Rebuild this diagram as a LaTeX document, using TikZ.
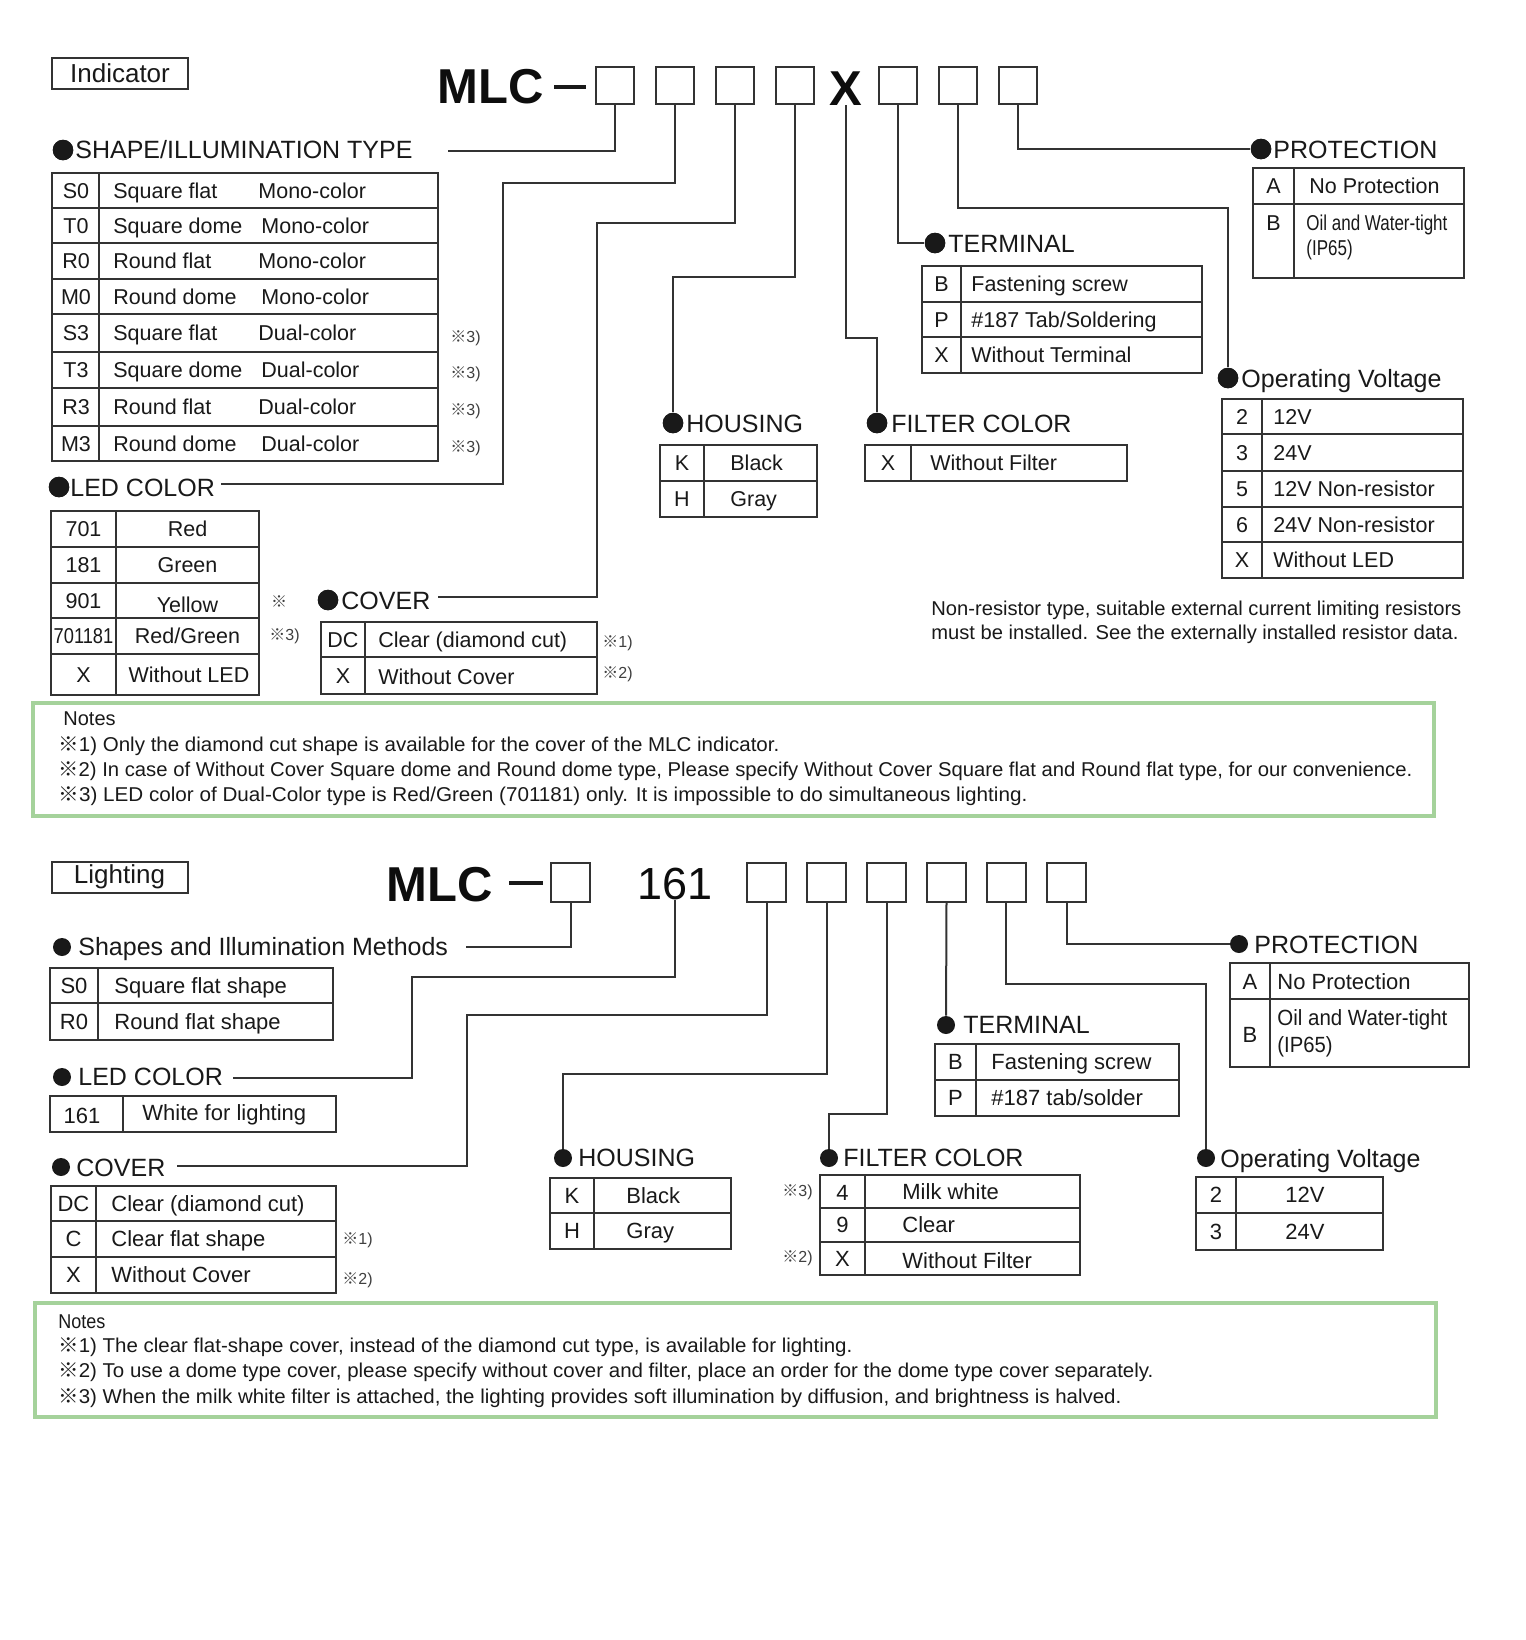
\documentclass[tikz,border=0pt]{standalone}
\usepackage{fontspec}
\setmainfont{Liberation Sans}
\newfontfamily\cjkfont{Noto Sans CJK JP}
\usepackage{graphicx}
\newcommand\komeji{{\cjkfont ※}}
\definecolor{lc}{HTML}{333333}
\definecolor{gn}{HTML}{A5D29B}
\newcommand\tgrid[6]{%
  \draw[ln] (#1,#2) rectangle (#3,#4);
  \draw[ln] (#5,#2) -- (#5,#4);
  \foreach \yy in {#6} {\draw[ln] (#1,\yy) -- (#3,\yy);}
}
\tikzset{
  ln/.style={draw=lc, line width=1pt},
  conn/.style={draw=lc, line width=1pt},
  bigdot/.style={circle, fill=black!90, inner sep=0pt, minimum size=10.25pt},
  smalldot/.style={circle, fill=black!90, inner sep=0pt, minimum size=9pt},
  hd/.style={anchor=west, inner sep=0pt, text=black!90, font=\fontsize{12.5}{14}\selectfont, text height=8.95pt, text depth=0pt},
  tc/.style={inner sep=0pt, text=black!90, font=\fontsize{10.75}{12}\selectfont, text height=7.7pt, text depth=0pt},
  tw/.style={tc, anchor=west},
  tcl/.style={inner sep=0pt, text=black!90, font=\fontsize{11}{12}\selectfont, text height=7.9pt, text depth=0pt},
  twl/.style={tcl, anchor=west},
  sm/.style={anchor=west, inner sep=0pt, text=black!75, font=\fontsize{8}{9}\selectfont, text height=5.7pt, text depth=0pt},
  codebox/.style={draw=lc, line width=1pt, minimum width=19pt, minimum height=18.5pt, inner sep=0pt},
  codeboxl/.style={draw=lc, line width=1pt, minimum width=19.5pt, minimum height=19.5pt, inner sep=0pt},
  nt/.style={anchor=west, inner sep=0pt, text=black!90, font=\fontsize{10}{12}\selectfont, text height=7.2pt, text depth=0pt},
  title/.style={anchor=west, inner sep=0pt, text=black!95, font=\fontsize{24.5}{26}\selectfont\bfseries, text height=17.5pt, text depth=0pt},
  labbox/.style={draw=lc, line width=1pt, inner sep=0pt, text=black!90, font=\fontsize{13}{14}\selectfont, minimum width=68pt, minimum height=15.5pt},
  notebox/.style={draw=gn, line width=1.6pt},
}
\begin{document}
\begin{tikzpicture}[x=0.5pt,y=-0.5pt]
\path[use as bounding box, fill=white] (0,0) rectangle (1526,1640);

%================ INDICATOR =================
\node[labbox] (ind) at (120,73.5) {Indicator};
\node[title] (mlc) at (437,86) {MLC};
\draw[line width=2pt, black!90] (554,87) -- (586,87);
\foreach \n/\x in {b1/615,b2/674.5,b3/734.5,b4/795,b5/897.5,b6/957.5,b7/1017.5}
  \node[codebox] (\n) at (\x,85.5) {};
\node[title, anchor=center] (bX) at (845.5,87.5) {X};

% heading dots
\node[bigdot] (hShape) at (63,150) {};
\node[bigdot] (hLed) at (59,487) {};
\node[bigdot] (hCov) at (328,600) {};
\node[bigdot] (hHouse) at (673,423) {};
\node[bigdot] (hFilt) at (877,423) {};
\node[bigdot] (hTerm) at (935,243) {};
\node[bigdot] (hProt) at (1261,149) {};
\node[bigdot] (hVolt) at (1228,378) {};

\coordinate (eShape) at (448,151);
\coordinate (eLed) at (221,484);
\coordinate (eCov) at (438,597);

\draw[conn] (b1.south) |- (eShape);
\draw[conn] (b2.south) |- (503,183) |- (eLed);
\draw[conn] (b3.south) |- (597,223) |- (eCov);
\draw[conn] (b4.south) |- (673,277) -- (hHouse);
\draw[conn] (bX.south) |- (877,338) -- (hFilt);
\draw[conn] (b5.south) |- (hTerm);
\draw[conn] (b6.south) |- (1228,208) -- (hVolt);
\draw[conn] (b7.south) |- (hProt);

\foreach \d in {hShape,hLed,hCov,hHouse,hFilt,hTerm,hProt,hVolt}
  \fill[black!90] (\d) circle (5.125pt);

\node[hd] (tShape) at (75,150) {SHAPE/ILLUMINATION TYPE};
\node[hd] (tLed) at (70,487.5) {LED COLOR};
\node[hd] (tCov) at (341,601) {COVER};
\node[hd] (tHouse) at (686,423.5) {HOUSING};
\node[hd] (tFilt) at (891,423.5) {FILTER COLOR};
\node[hd] (tTerm) at (948,243.5) {TERMINAL};
\node[hd] (tProt) at (1273,149.5) {PROTECTION};
\node[hd] (tVolt) at (1241,378.5) {Operating Voltage};

% shape table
\tgrid{52}{173}{438}{461}{99}{208,243,279,314,352,388,426}
\foreach \c/\a/\b/\bx/\y [count=\i] in {S0/Square flat/Mono-color/258/190.5,T0/Square dome/Mono-color/261/225.5,R0/Round flat/Mono-color/258/261,M0/Round dome/Mono-color/261/296.5,S3/Square flat/Dual-color/258/333,T3/Square dome/Dual-color/261/370,R3/Round flat/Dual-color/258/407,M3/Round dome/Dual-color/261/443.5}{
  \node[tc] (sc\i) at (76,\y) {\c};
  \node[tw] (sa\i) at (113,\y) {\a};
  \node[tw] (sb\i) at (\bx,\y) {\b};
}
\foreach \y [count=\i] in {337,373,410,447}
  \node[sm] (sn\i) at (450,\y) {\komeji3)};

% LED table
\tgrid{51}{511}{259}{695}{116}{547,583,618,654}
\node[tc] (lc1) at (83.5,529) {701};
\node[tc] (lc2) at (83.5,565) {181};
\node[tc] (lc3) at (83.5,600.5) {901};
\node[tc] (lc4) at (83.5,636) {\scalebox{0.85}[1]{701181}};
\node[tc] (lc5) at (83.5,674.5) {X};
\node[tc] (ld1) at (187.5,529) {Red};
\node[tc] (ld2) at (187.5,565) {Green};
\node[tc] (ld3) at (187.5,605) {Yellow};
\node[tc] (ld4) at (187.5,636) {Red/Green};
\node[tc] (ld5) at (189,674.5) {Without LED};
\node[sm, anchor=center] (ln1) at (279,602) {\komeji};
\node[sm] (ln2) at (269,635) {\komeji3)};

% cover table
\tgrid{321}{622}{597}{694}{365}{657}
\node[tc] (cc1) at (343,639.5) {DC};
\node[tc] (cc2) at (343,675.5) {X};
\node[tw] (cd1) at (378,639.5) {Clear (diamond cut)};
\node[tw] (cd2) at (378,677) {Without Cover};
\node[sm] (cn1) at (602,642) {\komeji1)};
\node[sm] (cn2) at (602,673) {\komeji2)};

% housing table
\tgrid{660}{445}{817}{517}{704}{481}
\node[tc] (hc1) at (682,463) {K};
\node[tc] (hc2) at (682,499) {H};
\node[tw] (hd1) at (730,463) {Black};
\node[tw] (hd2) at (730,499) {Gray};

% filter table
\tgrid{865}{445}{1127}{481}{911}{445}
\node[tc] (fc1) at (888,463) {X};
\node[tw] (fd1) at (930,463) {Without Filter};

% terminal table
\tgrid{922}{266}{1202}{373}{961}{302,337}
\node[tc] (tc1) at (941.5,284) {B};
\node[tc] (tc2) at (941.5,319.5) {P};
\node[tc] (tc3) at (941.5,355) {X};
\node[tw] (td1) at (971,284) {Fastening screw};
\node[tw] (td2) at (971,319.5) {\#187 Tab/Soldering};
\node[tw] (td3) at (971,355) {Without Terminal};

% protection table
\tgrid{1253}{168}{1464}{278}{1294}{204}
\node[tc] (pc1) at (1273.5,186) {A};
\node[tc] (pc2) at (1273.5,223) {B};
\node[tw] (pd1) at (1309,186) {No Protection};
\node[tw] (pd2) at (1306,223) {\resizebox{70.5pt}{\height}{Oil and Water-tight}};
\node[tw] (pd3) at (1306,248) {\scalebox{0.79}[1]{(IP65)}};

% voltage table
\tgrid{1222}{399}{1463}{578}{1262}{434,471,507,542}
\foreach \c/\a/\y [count=\i] in {2/12V/416.5,3/24V/452.5,5/12V Non-resistor/489,6/24V Non-resistor/524.5,X/Without LED/560}{
  \node[tc] (vc\i) at (1242,\y) {\c};
  \node[tw] (vd\i) at (1273,\y) {\a};
}
\node[nt] (nr1) at (931,608) {\resizebox{265pt}{\height}{Non-resistor type, suitable external current limiting resistors}};
\node[nt] (nr2) at (931,632) {\resizebox{263.5pt}{\height}{must be installed. See the externally installed resistor data.}};

% notes 1
\draw[notebox] (33,703) rectangle (1434,816);
\node[nt] (n1h) at (63,718) {Notes};
\node[nt] (n1a) at (58,744) {\resizebox{360.5pt}{\height}{\komeji1) Only the diamond cut shape is available for the cover of the MLC indicator.}};
\node[nt] (n1b) at (58,769) {\resizebox{677pt}{\height}{\komeji2) In case of Without Cover Square dome and Round dome type, Please specify Without Cover Square flat and Round flat type, for our convenience.}};
\node[nt] (n1c) at (58,794) {\resizebox{484.5pt}{\height}{\komeji3) LED color of Dual-Color type is Red/Green (701181) only. It is impossible to do simultaneous lighting.}};

%================ LIGHTING =================
\node[labbox] (lig) at (119.5,877) {Lighting};
\node[title] (mlc2) at (386,884) {MLC};
\draw[line width=2pt, black!90] (509,883) -- (543,883);
\node[anchor=center, inner sep=0pt, text=black!95, font=\fontsize{22.5}{26}\selectfont, text height=16.1pt, text depth=0pt] (n161) at (675,883) {161};
\foreach \n/\x in {L1/570.5,L2/766.5,L3/826.5,L4/886.5,L5/946.5,L6/1006,L7/1066.5}
  \node[codeboxl] (\n) at (\x,882.5) {};

\node[smalldot] (gShape) at (62,947) {};
\node[smalldot] (gLed) at (62,1077) {};
\node[smalldot] (gCov) at (61,1167) {};
\node[smalldot] (gHouse) at (563,1158) {};
\node[smalldot] (gFilt) at (829,1158) {};
\node[smalldot] (gTerm) at (946,1025) {};
\node[smalldot] (gProt) at (1239,944) {};
\node[smalldot] (gVolt) at (1206,1158) {};

\coordinate (fShape) at (466,947);
\coordinate (fLed) at (233,1078);
\coordinate (fCov) at (177,1166);

\draw[conn] (L1.south) |- (fShape);
\draw[conn] (n161.south) |- (412,977) |- (fLed);
\draw[conn] (L2.south) |- (467,1015) |- (fCov);
\draw[conn] (L3.south) |- (563,1074) -- (gHouse);
\draw[conn] (L4.south) |- (829,1114) -- (gFilt);
\draw[conn] (L5.south) -- (gTerm);
\draw[conn] (L6.south) |- (1206,984) -- (gVolt);
\draw[conn] (L7.south) |- (gProt);

\node[hd] (uShape) at (78,946.5) {Shapes and Illumination Methods};
\node[hd] (uLed) at (78,1077) {LED COLOR};
\node[hd] (uCov) at (76,1167.5) {COVER};
\node[hd] (uHouse) at (578,1157.5) {HOUSING};
\node[hd] (uFilt) at (843,1157.5) {FILTER COLOR};
\node[hd] (uTerm) at (963,1024.5) {TERMINAL};
\node[hd] (uProt) at (1254,945) {PROTECTION};
\node[hd] (uVolt) at (1220,1158.5) {Operating Voltage};

% shapes table
\tgrid{50}{968}{333}{1040}{98}{1003}
\node[tcl] (xc1) at (74,985.5) {S0};
\node[tcl] (xc2) at (74,1021.5) {R0};
\node[twl] (xd1) at (114,985.5) {Square flat shape};
\node[twl] (xd2) at (114,1021.5) {Round flat shape};

% led table
\tgrid{50}{1096}{336}{1132}{123}{1096}
\node[tcl] (yc1) at (82,1116) {161};
\node[twl] (yd1) at (142,1113) {White for lighting};

% cover table
\tgrid{51}{1186}{336}{1293}{96}{1221,1257}
\node[tcl] (zc1) at (73.5,1203.5) {DC};
\node[tcl] (zc2) at (73.5,1239) {C};
\node[tcl] (zc3) at (73.5,1275) {X};
\node[twl] (zd1) at (111,1203.5) {Clear (diamond cut)};
\node[twl] (zd2) at (111,1239) {Clear flat shape};
\node[twl] (zd3) at (111,1275) {Without Cover};
\node[sm] (zn1) at (342,1239) {\komeji1)};
\node[sm] (zn2) at (342,1279) {\komeji2)};

% housing table
\tgrid{550}{1178}{731}{1249}{594}{1213}
\node[tcl] (wc1) at (572,1195.5) {K};
\node[tcl] (wc2) at (572,1231) {H};
\node[twl] (wd1) at (626,1195.5) {Black};
\node[twl] (wd2) at (626,1231) {Gray};

% filter table
\tgrid{820}{1175}{1080}{1275}{865}{1208,1242}
\node[tcl] (qc1) at (842.5,1193) {4};
\node[tcl] (qc2) at (842.5,1225) {9};
\node[tcl] (qc3) at (842.5,1258.5) {X};
\node[twl] (qd1) at (902,1191.5) {Milk white};
\node[twl] (qd2) at (902,1225) {Clear};
\node[twl] (qd3) at (902,1261) {Without Filter};
\node[sm] (qn1) at (782,1191) {\komeji3)};
\node[sm] (qn2) at (782,1257) {\komeji2)};

% terminal table
\tgrid{935}{1044}{1179}{1116}{976}{1080}
\node[tcl] (rc1) at (955.5,1062) {B};
\node[tcl] (rc2) at (955.5,1098) {P};
\node[twl] (rd1) at (991,1062) {Fastening screw};
\node[twl] (rd2) at (991,1098) {\#187 tab/solder};

% protection table
\tgrid{1230}{963}{1469}{1067}{1270}{999}
\node[tcl] (oc1) at (1250,982) {A};
\node[tcl] (oc2) at (1250,1035) {B};
\node[twl] (od1) at (1277,982) {No Protection};
\node[twl] (od2) at (1277,1018) {\resizebox{85pt}{\height}{Oil and Water-tight}};
\node[twl] (od3) at (1277,1045) {\scalebox{0.92}[1]{(IP65)}};

% voltage table
\tgrid{1196}{1177}{1383}{1250}{1236}{1213}
\node[tcl] (kc1) at (1216,1195) {2};
\node[tcl] (kc2) at (1216,1231.5) {3};
\node[tcl] (kd1) at (1305,1195) {12V};
\node[tcl] (kd2) at (1305,1231.5) {24V};

% notes 2
\draw[notebox] (35,1303) rectangle (1436,1417);
\node[nt] (n2h) at (58,1321) {\scalebox{0.9}[1]{Notes}};
\node[nt] (n2a) at (58,1345) {\resizebox{397pt}{\height}{\komeji1) The clear flat-shape cover, instead of the diamond cut type, is available for lighting.}};
\node[nt] (n2b) at (58,1370) {\resizebox{547.5pt}{\height}{\komeji2) To use a dome type cover, please specify without cover and filter, place an order for the dome type cover separately.}};
\node[nt] (n2c) at (58,1396) {\resizebox{531.5pt}{\height}{\komeji3) When the milk white filter is attached, the lighting provides soft illumination by diffusion, and brightness is halved.}};
\end{tikzpicture}
\end{document}
